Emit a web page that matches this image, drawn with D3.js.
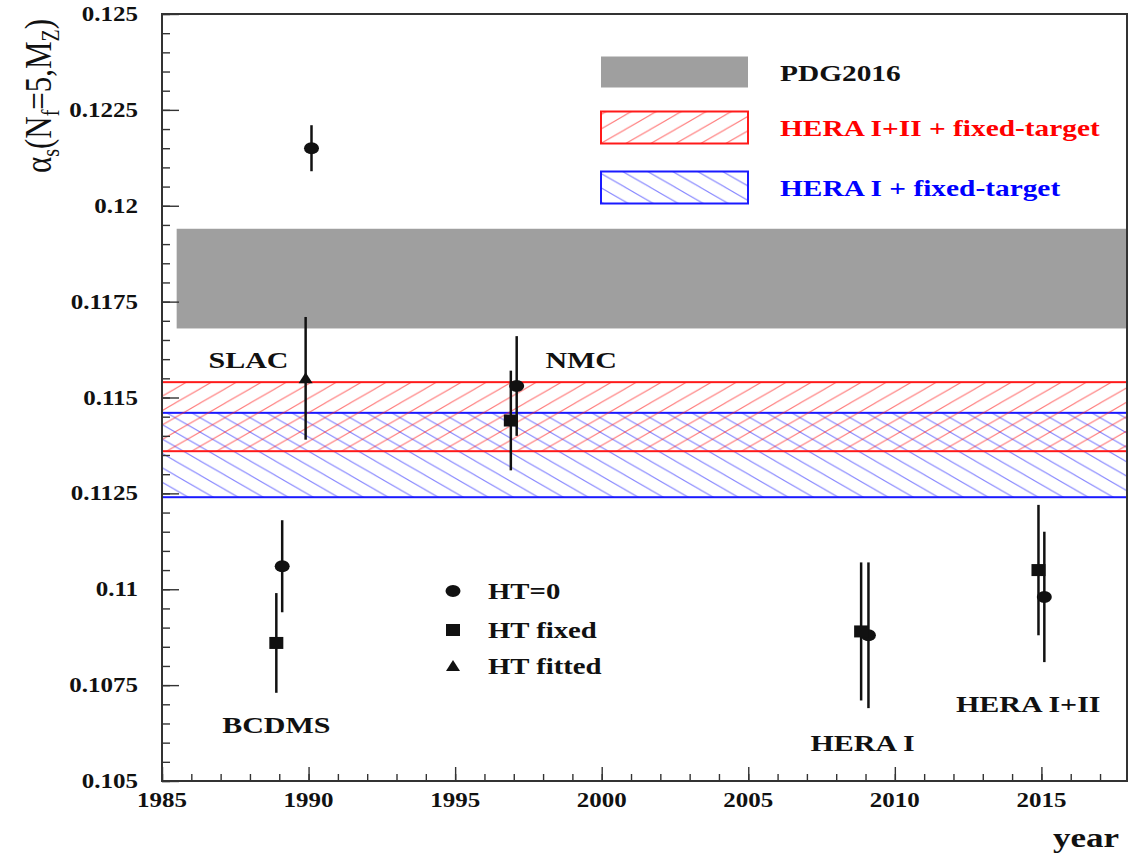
<!DOCTYPE html>
<html>
<head>
<meta charset="utf-8">
<script src="https://cdn.jsdelivr.net/npm/d3@7"></script>
<style>
  body { margin: 0; background: #fff; }
  svg { display: block; }
  text { font-family: "Liberation Serif", "Times New Roman", serif; }
</style>
</head>
<body>
<svg id="chart" width="1128" height="854"></svg>
<script>
// ---- axis ticks ----
const yearTicks = [1985, 1990, 1995, 2000, 2005, 2010, 2015];
const yearTickLabels = ["1985", "1990", "1995", "2000", "2005", "2010", "2015"];
const alphaTicks = [0.105, 0.1075, 0.11, 0.1125, 0.115, 0.1175, 0.12, 0.1225, 0.125];
const alphaTickLabels = ["0.105", "0.1075", "0.11", "0.1125", "0.115", "0.1175", "0.12", "0.1225", "0.125"];

// ---- reference bands (central value, half width) ----
const bandNames = ["PDG2016", "HERA I+II + fixed-target", "HERA I + fixed-target"];
const bandCentres = [0.1181, 0.1145, 0.1135];
const bandHalfWidths = [0.0013, 0.0009, 0.0011];
const bandStartYears = [1985.5, 1985, 1985];

// ---- alpha_s determinations ----
const markerNames = ["HT=0", "HT fixed", "HT fitted"];
const htZeroYears  = [1990.1, 1989.1, 1997.1, 2009.1, 2015.1];
const htZeroValues = [0.1215, 0.1106, 0.1153, 0.1088, 0.1098];
const htZeroErrors = [0.0006, 0.0012, 0.0013, 0.0019, 0.0017];
const htFixedYears  = [1988.9, 1996.9, 2008.85, 2014.9];
const htFixedValues = [0.1086, 0.1144, 0.1089, 0.1105];
const htFixedErrors = [0.0013, 0.0013, 0.0018, 0.0017];
const htFittedYears  = [1989.9];
const htFittedValues = [0.1155];
const htFittedErrors = [0.0016];

const experimentNames = ["SLAC", "NMC", "BCDMS", "HERA I", "HERA I+II"];

// ---- layout ----
const frame = { left: 162, right: 1127, top: 14, bottom: 781 };
const experimentLabelAt = [[1987.95, 0.11577], [1999.3, 0.11577], [1988.9, 0.10626], [2008.9, 0.10577], [2014.55, 0.10679]];
const TEXT_SX = 1.25;   // horizontal stretch applied to all lettering

const svg = d3.select("#chart");
const x = d3.scaleLinear().domain([1985, 2017.92]).range([frame.left, frame.right]);
const y = d3.scaleLinear().domain([0.105, 0.125]).range([frame.bottom, frame.top]);

const defs = svg.append("defs");
function hatch(id, color, rising) {
  const pw = 25, ph = 14.4;
  const p = defs.append("pattern").attr("id", id)
    .attr("patternUnits", "userSpaceOnUse").attr("width", pw).attr("height", ph);
  const d = rising
    ? `M0,${ph} L${pw},0 M${-pw/4},${ph/4} L${pw/4},${-ph/4} M${3*pw/4},${5*ph/4} L${5*pw/4},${3*ph/4}`
    : `M0,0 L${pw},${ph} M${-pw/4},${3*ph/4} L${pw/4},${5*ph/4} M${3*pw/4},${-ph/4} L${5*pw/4},${ph/4}`;
  p.append("path").attr("d", d).attr("stroke", color).attr("stroke-width", 1.1).attr("fill", "none");
}
hatch("hatchRed", "rgba(255,40,40,0.6)", true);
hatch("hatchBlue", "rgba(40,40,255,0.55)", false);

function stretchedText(parent, px, py, str, size, opts = {}) {
  return parent.append("g")
    .attr("transform", `translate(${px},${py}) scale(${TEXT_SX},1)`)
    .append("text")
    .attr("text-anchor", opts.anchor || "middle")
    .attr("font-size", size)
    .attr("font-weight", opts.weight || "bold")
    .attr("fill", opts.fill || "#111")
    .attr("dy", opts.dy === undefined ? "0.35em" : opts.dy)
    .text(str);
}

// ---- bands ----
const bandFills = ["#9f9f9f", "url(#hatchRed)", "url(#hatchBlue)"];
const bandStrokes = ["none", "#ff1a1a", "#1a1aff"];
const bandsG = svg.append("g");
[0, 2, 1].forEach(i => {
  bandsG.append("rect")
    .attr("x", x(bandStartYears[i]))
    .attr("width", x.range()[1] - x(bandStartYears[i]))
    .attr("y", y(bandCentres[i] + bandHalfWidths[i]))
    .attr("height", y(bandCentres[i] - bandHalfWidths[i]) - y(bandCentres[i] + bandHalfWidths[i]))
    .attr("fill", bandFills[i])
    .attr("stroke", bandStrokes[i])
    .attr("stroke-width", 2);
});

// ---- axes ----
const minorYears = d3.range(1985, 2018, 1);
const minorAlpha = d3.range(0, 41).map(k => +(0.105 + k * 0.0005).toFixed(4));

svg.append("g").attr("transform", `translate(0,${frame.bottom})`)
  .call(d3.axisBottom(x).tickValues(minorYears).tickSize(-7).tickFormat(""))
  .call(g => g.select(".domain").remove());
svg.append("g").attr("transform", `translate(0,${frame.bottom})`)
  .call(d3.axisBottom(x).tickValues(yearTicks).tickSize(-14).tickFormat(""))
  .call(g => g.select(".domain").remove());
svg.append("g").attr("transform", `translate(${frame.left},0)`)
  .call(d3.axisLeft(y).tickValues(minorAlpha).tickSize(-8).tickFormat(""))
  .call(g => g.select(".domain").remove());
svg.append("g").attr("transform", `translate(${frame.left},0)`)
  .call(d3.axisLeft(y).tickValues(alphaTicks).tickSize(-17).tickFormat(""))
  .call(g => g.select(".domain").remove());
svg.selectAll(".tick line").attr("stroke", "#333").attr("stroke-width", 1.4);

// frame
svg.append("rect")
  .attr("x", frame.left).attr("y", frame.top)
  .attr("width", frame.right - frame.left).attr("height", frame.bottom - frame.top)
  .attr("fill", "none").attr("stroke", "#333").attr("stroke-width", 2);

// tick labels
const labelsG = svg.append("g");
yearTicks.forEach((v, i) => stretchedText(labelsG, x(v), frame.bottom + 19, yearTickLabels[i], 20));
alphaTicks.forEach((v, i) => stretchedText(labelsG, 138, y(v), alphaTickLabels[i], 20, { anchor: "end" }));

// axis titles
stretchedText(labelsG, 1119, 837, "year", 28, { anchor: "end" });
const yTitle = labelsG.append("text")
  .attr("transform", `translate(51,96) rotate(-90) scale(1,${TEXT_SX})`)
  .attr("text-anchor", "middle")
  .attr("font-size", 31)
  .attr("fill", "#111");
yTitle.append("tspan").text("α");
yTitle.append("tspan").attr("font-size", 20).attr("dy", 6).text("s");
yTitle.append("tspan").attr("dy", -6).text("(N");
yTitle.append("tspan").attr("font-size", 20).attr("dy", 6).text("f");
yTitle.append("tspan").attr("dy", -6).text("=5,M");
yTitle.append("tspan").attr("font-size", 20).attr("dy", 6).text("Z");
yTitle.append("tspan").attr("dy", -6).text(")");

// ---- measurements ----
const pts = svg.append("g");
function errorBars(years, values, errors) {
  pts.selectAll(null).data(years).join("line")
    .attr("x1", d => x(d)).attr("x2", d => x(d))
    .attr("y1", (d, i) => y(values[i] + errors[i]))
    .attr("y2", (d, i) => y(values[i] - errors[i]))
    .attr("stroke", "#111").attr("stroke-width", 2.5);
}
errorBars(htZeroYears, htZeroValues, htZeroErrors);
errorBars(htFixedYears, htFixedValues, htFixedErrors);
errorBars(htFittedYears, htFittedValues, htFittedErrors);

function circleMark(g, cx, cy) {
  g.append("ellipse").attr("cx", cx).attr("cy", cy).attr("rx", 7.5).attr("ry", 6).attr("fill", "#111");
}
function squareMark(g, cx, cy) {
  g.append("rect").attr("x", cx - 7).attr("y", cy - 6).attr("width", 14).attr("height", 12).attr("fill", "#111");
}
function triangleMark(g, cx, cy) {
  g.append("path").attr("d", `M${cx - 7},${cy + 5} L${cx + 7},${cy + 5} L${cx},${cy - 6} Z`).attr("fill", "#111");
}
htZeroYears.forEach((v, i) => circleMark(pts, x(v), y(htZeroValues[i])));
htFixedYears.forEach((v, i) => squareMark(pts, x(v), y(htFixedValues[i])));
htFittedYears.forEach((v, i) => triangleMark(pts, x(v), y(htFittedValues[i])));

// experiment names
experimentNames.forEach((n, i) =>
  stretchedText(labelsG, x(experimentLabelAt[i][0]), y(experimentLabelAt[i][1]), n, 24, { dy: 0 }));

// ---- band legend ----
const leg = svg.append("g");
const legRows = [72.5, 127.5, 187.5];
const legTextFill = ["#111", "#ff0000", "#0000ff"];
bandNames.forEach((n, i) => {
  leg.append("rect")
    .attr("x", 601).attr("y", legRows[i] - 16).attr("width", 147).attr("height", i === 0 ? 31 : 32)
    .attr("fill", bandFills[i]).attr("stroke", bandStrokes[i]).attr("stroke-width", 2);
  stretchedText(leg, 780, legRows[i], n, 23.5, { anchor: "start", fill: legTextFill[i] });
});

// ---- marker legend ----
const mRows = [591, 630, 666];
circleMark(leg, 453, mRows[0]);
squareMark(leg, 453, mRows[1]);
triangleMark(leg, 453, mRows[2]);
markerNames.forEach((n, i) => stretchedText(leg, 488, mRows[i], n, 23, { anchor: "start" }));
</script>
</body>
</html>
